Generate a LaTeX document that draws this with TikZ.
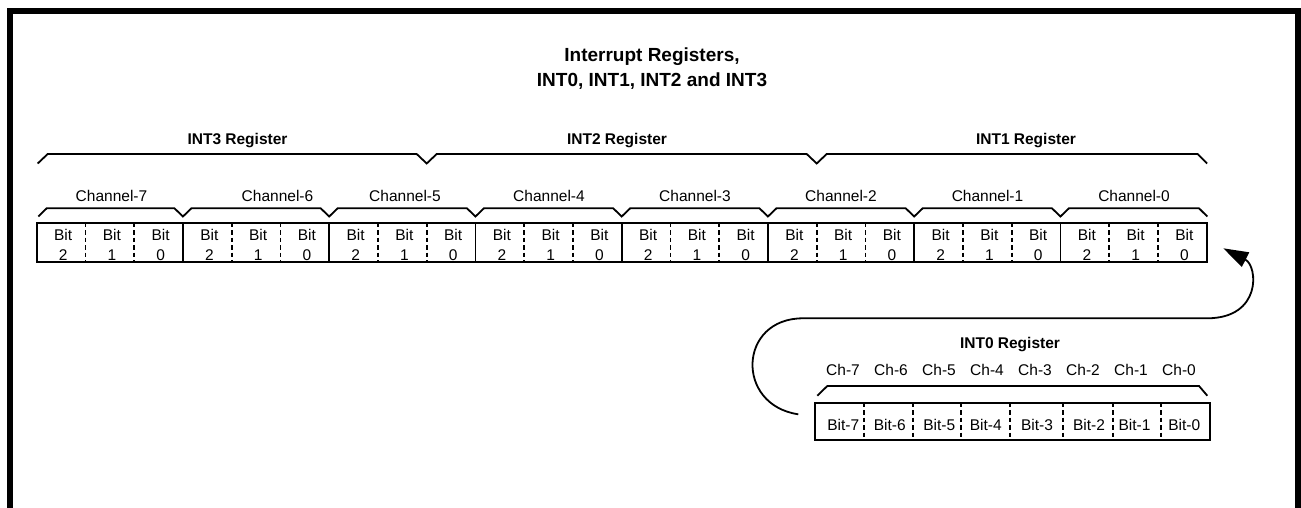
\documentclass[tikz,border=0pt]{standalone}
\usepackage{fontspec}
\setmainfont{Liberation Sans}
\usetikzlibrary{arrows.meta}
\newcommand\lblfont{\fontsize{15.5}{18}\selectfont}
\newcommand\titlefont{\fontsize{19}{24}\selectfont\bfseries}
\begin{document}
\begin{tikzpicture}[x=1pt,y=-1pt,
  outline/.style={line width=1.8pt, line join=miter},
  divider/.style={line width=1.8pt, dash pattern=on 4.5pt off 3pt},
  brace/.style={line width=1.8pt, line join=miter},
  lbl/.style={font=\lblfont, inner sep=0pt, anchor=base},
  reglbl/.style={font=\lblfont\bfseries, inner sep=0pt, anchor=base},
  titlelbl/.style={font=\titlefont, inner sep=0pt, anchor=base},
  loop/.style={line width=1.8pt, -{Triangle[length=25pt,width=16pt]}},
  frame/.style={fill=black}]
\useasboundingbox (0,0) rectangle (1301,508);
% frame
\fill[frame] (7,8) rectangle (1301,14);
\fill[frame] (7,8) rectangle (13,508);
\fill[frame] (1295,8) rectangle (1301,508);
% title
\node[titlelbl] (t1) at (652,62) {Interrupt Registers,};
\node[titlelbl] (t2) at (652,87) {INT0, INT1, INT2 and INT3};
% register labels
\node[reglbl] (r3) at (237.5,144.4) {INT3 Register};
\node[reglbl] (r2) at (617,144.4) {INT2 Register};
\node[reglbl] (r1) at (1026,144.4) {INT1 Register};
% register brace
\draw[brace] (37.7,163.5) -- (47.7,154) -- (416.7,154) -- (426.7,163.5) -- (436.7,154)
  -- (806.7,154) -- (816.7,163.5) -- (826.7,154) -- (1197.7,154) -- (1207,163.5);
% channel labels
\node[lbl] (ch7) at (111.5,201) {Channel-7};
\node[lbl] (ch6) at (277.5,201) {Channel-6};
\node[lbl] (ch5) at (405,201) {Channel-5};
\node[lbl] (ch4) at (549,201) {Channel-4};
\node[lbl] (ch3) at (695,201) {Channel-3};
\node[lbl] (ch2) at (841,201) {Channel-2};
\node[lbl] (ch1) at (987.5,201) {Channel-1};
\node[lbl] (ch0) at (1134,201) {Channel-0};
% channel brace
\draw[brace] (38.3,216.5) -- (46.7,208.3)
  \foreach \k in {1,...,7} { -- ({36.7+146.25*\k-8.5},208.3) -- ({36.7+146.25*\k},216.5) -- ({36.7+146.25*\k+8.5},208.3) }
  -- (1199,208.3) -- (1207.3,216.5);
% bit row
\draw[outline] (36.7,222.7) rectangle (1206.7,261.7);
\foreach \i in {3,6,...,21} \draw[outline] ({36.7+48.75*\i},222.7) -- ({36.7+48.75*\i},261.7);
\foreach \i in {1,2,4,5,7,8,10,11,13,14,16,17,19,20,22,23} \draw[divider] ({36.7+48.75*\i},222.7) -- ({36.7+48.75*\i},261.7);
\foreach \i in {0,...,23} {
  \pgfmathsetmacro\cx{36.7+48.75*\i+24.375+2}
  \pgfmathtruncatemacro\d{2-mod(\i,3)}
  \node[lbl] (bit\i) at (\cx,240.7) {Bit};
  \node[lbl] (num\i) at (\cx,260) {\d};
}
% INT0 register
\node[reglbl] (r0) at (1010,348.4) {INT0 Register};
\foreach \k/\c in {0/7,1/6,2/5,3/4,4/3,5/2,6/1,7/0}
  \node[lbl] (cz\c) at ({843+48*\k},375) {Ch-\c};
\draw[brace] (817.3,395.7) -- (827.3,386) -- (1199,386) -- (1207.3,395.7);
\draw[outline] (815,402.7) rectangle (1210,440);
\foreach \x in {864,913,961,1010,1062.7,1112.7,1161} \draw[divider] (\x,402.7) -- (\x,440);
\foreach \x/\c in {843.3/7,889.8/6,939.2/5,985.8/4,1037/3,1089/2,1134.5/1,1184.2/0}
  \node[lbl] (bz\c) at (\x,430) {Bit-\c};
% loop arrow
\coordinate (loopStart) at (798.3,414.3);
\coordinate (loopEnd) at (1223.3,248.3);
\draw[loop] (loopStart) .. controls (735,405) and (738,318.3) .. (803,318.3) -- (1207,318.3)
  .. controls (1262,318.3) and (1258,266) .. (loopEnd);
\end{tikzpicture}
\end{document}
